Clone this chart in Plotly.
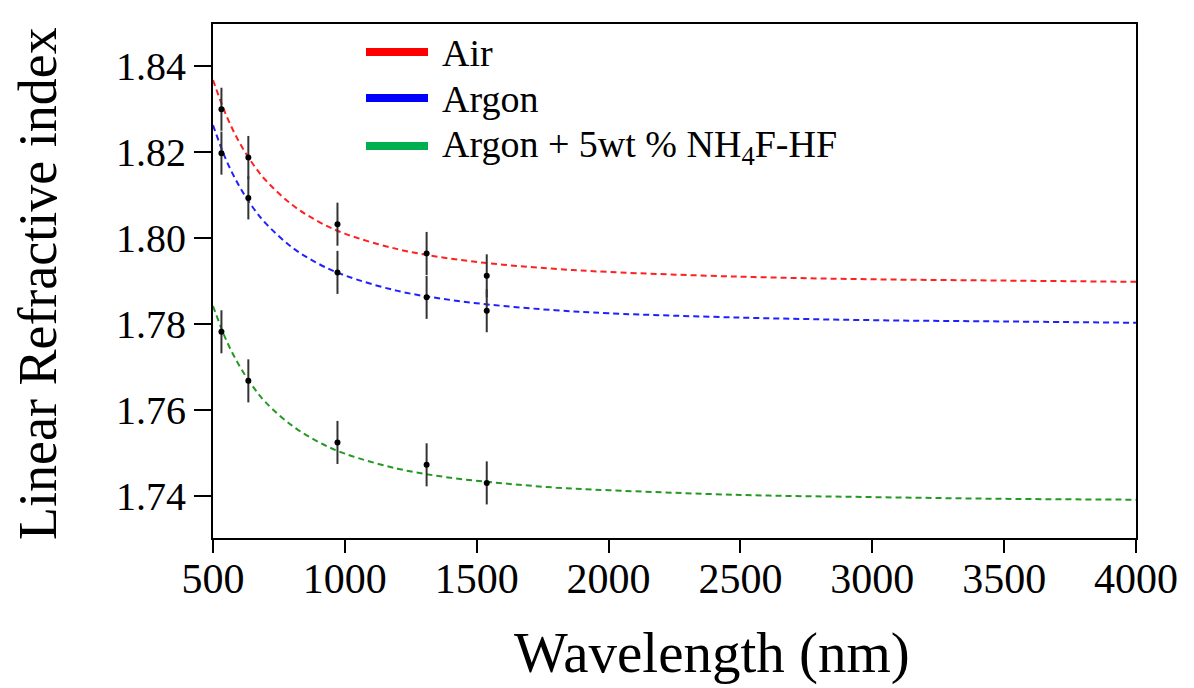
import plotly.graph_objects as go

# ---- measured data points ----
wl_points = [532, 634, 972, 1310, 1538]
air_n = [1.8299, 1.8187, 1.8032, 1.7964, 1.7912]
argon_n = [1.8197, 1.8093, 1.7920, 1.7862, 1.7831]
argon_nh4_n = [1.7782, 1.7668, 1.7525, 1.7473, 1.7431]
err = [0.005, 0.005, 0.005, 0.005, 0.005]

# ---- fitted (dashed) curves ----
wl_fit = [500, 550, 600, 650, 700, 800, 900, 1000, 1200, 1400, 1600, 1800,
          2000, 2500, 3000, 3500, 4000]
air_fit = [1.8367, 1.8285, 1.8222, 1.8173, 1.8134, 1.8077, 1.8038, 1.8010,
           1.7974, 1.7952, 1.7938, 1.7928, 1.7921, 1.7910, 1.7904, 1.7901, 1.7898]
argon_fit = [1.8262, 1.8181, 1.8120, 1.8072, 1.8034, 1.7978, 1.7940, 1.7913,
             1.7877, 1.7856, 1.7842, 1.7832, 1.7825, 1.7815, 1.7809, 1.7806, 1.7803]
argon_nh4_fit = [1.7842, 1.7763, 1.7703, 1.7656, 1.7618, 1.7564, 1.7526, 1.7499,
                 1.7464, 1.7443, 1.7430, 1.7420, 1.7414, 1.7403, 1.7398, 1.7394, 1.7392]

series_names = ["Air", "Argon", "Argon + 5wt % NH<sub>4</sub>F-HF"]
curve_colors = ["#ff2020", "#2020ff", "#229922"]
legend_colors = ["#ff0000", "#0000ff", "#00b050"]

x_ticks = [500, 1000, 1500, 2000, 2500, 3000, 3500, 4000]
y_ticks = [1.74, 1.76, 1.78, 1.80, 1.82, 1.84]

FONT = "Liberation Serif, Times New Roman, serif"

fig = go.Figure()

for yfit, col in zip([air_fit, argon_fit, argon_nh4_fit], curve_colors):
    fig.add_trace(go.Scatter(
        x=wl_fit, y=yfit, mode="lines",
        line=dict(color=col, width=2, dash="6px,4px", shape="spline"),
        showlegend=False, hoverinfo="skip"))

for yp in [air_n, argon_n, argon_nh4_n]:
    fig.add_trace(go.Scatter(
        x=wl_points, y=yp, mode="markers",
        marker=dict(color="black", size=6),
        error_y=dict(type="data", array=err, visible=True,
                     color="#333333", thickness=2, width=0),
        showlegend=False))

# page has an 8px body margin: work in window pixels, convert to figure pixels
OFF = 8
FIG_W, FIG_H = 1194 - OFF, 688 - OFF
L, R, T, B = 213 - OFF, 1136 - OFF, 24 - OFF, 538 - OFF
W, H = R - L, B - T
def px(x):
    return (x - OFF - L) / W
def py(y):
    return (B - (y - OFF)) / H

shapes = []
annotations = []
for i, (name, col) in enumerate(zip(series_names, legend_colors)):
    yc = [52, 98, 146][i]
    shapes.append(dict(type="line", xref="paper", yref="paper",
                       x0=px(366), x1=px(428), y0=py(yc), y1=py(yc),
                       line=dict(color=col, width=8)))
    annotations.append(dict(xref="paper", yref="paper", x=px(440), y=py(yc + 1),
                            text=name, showarrow=False, xanchor="left",
                            yanchor="middle",
                            font=dict(family=FONT, size=38, color="black")))

# axis titles
annotations.append(dict(xref="paper", yref="paper", x=px(712), y=py(653),
                        text="Wavelength (nm)", showarrow=False,
                        xanchor="center", yanchor="middle",
                        font=dict(family=FONT, size=57, color="black")))
annotations.append(dict(xref="paper", yref="paper", x=px(38), y=py(284),
                        text="Linear Refractive index", showarrow=False,
                        textangle=-90, xanchor="center", yanchor="middle",
                        font=dict(family=FONT, size=54, color="black")))

fig.update_layout(
    width=FIG_W, height=FIG_H,
    margin=dict(l=L, r=FIG_W - R, t=T, b=FIG_H - B),
    paper_bgcolor="white", plot_bgcolor="white",
    font=dict(family=FONT, color="black"),
    shapes=shapes, annotations=annotations,
    xaxis=dict(range=[500, 4000], tickvals=x_ticks,
               ticktext=[str(v) for v in x_ticks],
               showgrid=False, zeroline=False,
               showline=True, linecolor="black", linewidth=2, mirror=True,
               ticks="outside", ticklen=13, tickwidth=2, tickcolor="black",
               ticklabelstandoff=-10,
               tickfont=dict(family=FONT, size=42, color="black")),
    xaxis2=dict(range=[500, 4000], tickvals=x_ticks, overlaying="x",
                anchor="y", side="bottom", showticklabels=False,
                showgrid=False, zeroline=False, showline=False,
                ticks="inside", ticklen=8, tickwidth=2, tickcolor="black"),
    yaxis=dict(range=[1.7303, 1.8497], tickvals=y_ticks,
               ticktext=["%.2f" % v for v in y_ticks],
               showgrid=False, zeroline=False,
               showline=True, linecolor="black", linewidth=2, mirror=True,
               ticks="outside", ticklen=17, tickwidth=2, tickcolor="black",
               tickfont=dict(family=FONT, size=40, color="black")),
)

fig.write_html("out.html")
